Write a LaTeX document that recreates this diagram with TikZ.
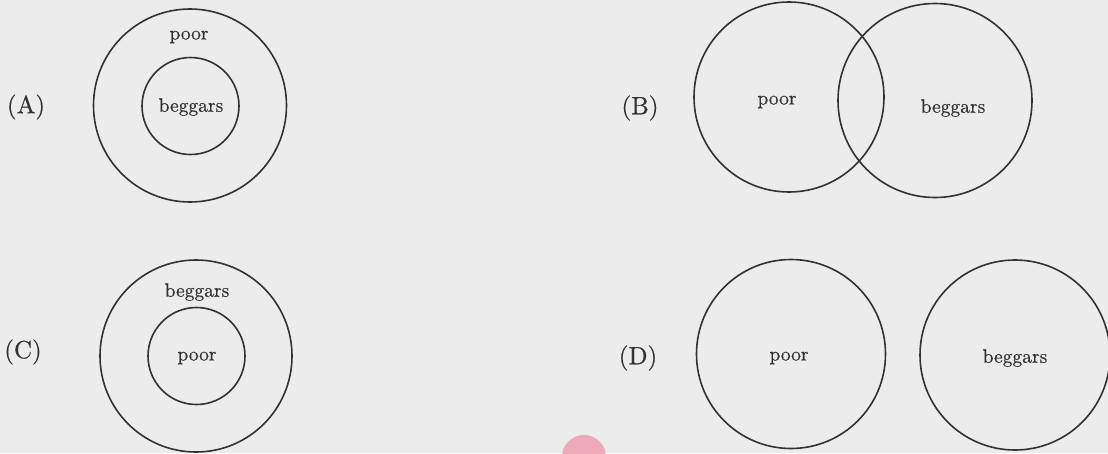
\documentclass[tikz,border=0pt]{standalone}
\usepackage{fontspec}
\newfontfamily\scanfont{lmroman10-regular.otf}[FakeBold=0.4]
\definecolor{paper}{RGB}{236,236,236}
\definecolor{ink}{RGB}{50,50,50}
\definecolor{blob}{RGB}{238,170,185}
\begin{document}
\begin{tikzpicture}[x=1pt,y=-1pt,
  ring/.style={circle,draw=ink,line width=1.6pt,inner sep=0pt,minimum size=#1},
  word/.style={text=ink,font=\scanfont\fontsize{19.5}{23}\selectfont,inner sep=0pt},
  tag/.style={text=ink,font=\scanfont\fontsize{25}{29}\selectfont,inner sep=0pt}]
\fill[paper] (0,0) rectangle (1108,453);
\useasboundingbox (0,0) rectangle (1108,453);
\fill[blob] (584,457) circle (22);
% (A)
\node[tag] (lA) at (26,107) {(A)};
\node[ring=193pt] (Aout) at (190,105.5) {};
\node[ring=97pt] (Ain) at (190.5,106) {};
\node[word] (Apoor) at (189,37) {poor};
\node[word] (Abeg) at (191,107) {beggars};
% (B)
\node[tag] (lB) at (640,108) {(B)};
\node[ring=190pt] (Bl) at (789,97) {};
\node[ring=194pt] (Br) at (935,100.5) {};
\node[word] (Bpoor) at (777,102) {poor};
\node[word] (Bbeg) at (953,108) {beggars};
% (C)
\node[tag] (lC) at (23,352) {(C)};
\node[ring=192pt] (Cout) at (196,356) {};
\node[ring=97pt] (Cin) at (196.5,356) {};
\node[word] (Cbeg) at (197,292) {beggars};
\node[word] (Cpoor) at (197,358) {poor};
% (D)
\node[tag] (lD) at (638,358) {(D)};
\node[ring=189pt] (Dl) at (791,354) {};
\node[ring=190pt] (Dr) at (1015,355) {};
\node[word] (Dpoor) at (789,358) {poor};
\node[word] (Dbeg) at (1015,358) {beggars};
\end{tikzpicture}
\end{document}
